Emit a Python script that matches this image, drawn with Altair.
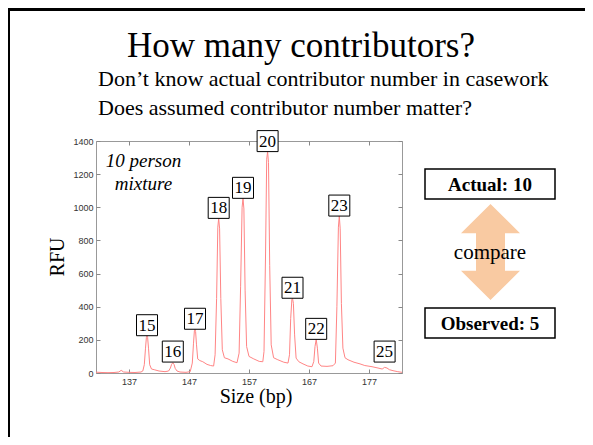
import altair as alt
import pandas as pd

# ---- trace (size in bp, RFU) ----
size_bp = [131.5, 132.5, 133.5, 134.5, 135.3, 135.7, 136.1, 137.0, 138.0, 139.0,
           139.3, 139.55, 139.75, 139.9, 140.0, 140.1, 140.25, 140.45, 140.75, 141.2,
           142.0, 143.0, 143.6, 143.9, 144.1, 144.3, 144.5, 144.7, 145.0, 145.5,
           146.5, 147.2, 147.55, 147.75, 147.9, 148.0, 148.1, 148.25, 148.45, 148.8,
           149.3, 150.0, 150.6, 151.1, 151.35, 151.6, 151.8, 151.95, 152.1, 152.3,
           152.55, 152.9, 153.5, 154.3, 155.0, 155.35, 155.6, 155.85, 156.0, 156.15,
           156.35, 156.6, 157.0, 157.8, 158.7, 159.3, 159.5, 159.75, 159.95, 160.1,
           160.25, 160.45, 160.7, 161.1, 161.8, 162.8, 163.5, 163.75, 163.95, 164.15,
           164.25, 164.4, 164.6, 164.85, 165.3, 166.0, 166.8, 167.5, 167.8, 168.0,
           168.2, 168.4, 168.6, 169.0, 170.0, 171.0, 171.4, 171.65, 171.9, 172.05,
           172.2, 172.4, 172.65, 173.0, 173.5, 174.5, 175.5, 176.3, 177.5, 178.5,
           179.2, 179.6, 180.0, 180.4, 181.0, 181.8, 182.5]
rfu = [5, 3, 2, 3, 6, 16, 6, 4, 3, 6,
       12, 50, 150, 215, 225, 215, 150, 50, 24, 20,
       12, 8, 12, 30, 52, 62, 52, 28, 12, 6,
       4, 8, 60, 180, 255, 264, 250, 170, 85, 75,
       68, 52, 45, 42, 110, 450, 880, 933, 870, 450,
       140, 92, 85, 70, 62, 120, 520, 1000, 1054, 990,
       500, 160, 100, 85, 70, 68, 130, 700, 1290, 1336,
       1270, 650, 170, 92, 80, 65, 60, 110, 330, 445,
       451, 420, 230, 90, 68, 55, 42, 38, 70, 160,
       203, 150, 60, 42, 40, 44, 60, 400, 880, 947,
       870, 420, 150, 92, 80, 65, 55, 45, 38, 30,
       24, 34, 30, 20, 14, 8, 4]

# ---- peak labels ----
peak_labels = ["15", "16", "17", "18", "19", "20", "21", "22", "23", "25"]
peak_size = [140.0, 144.3, 148.0, 151.95, 156.0, 160.1, 164.25, 168.2, 172.05, 179.6]
label_rfu = [225, 66, 264, 933, 1054, 1336, 451, 203, 947, 66]

x_ticks = [137, 147, 157, 167, 177]
y_ticks = [0, 200, 400, 600, 800, 1000, 1200, 1400]

title_text = "How many contributors?"
sub1 = "Don\u2019t know actual contributor number in casework"
sub2 = "Does assumed contributor number matter?"
mix1, mix2 = "10 person", "mixture"
actual_text = "Actual: 10"
observed_text = "Observed: 5"
compare_text = "compare"

W, H = 306, 232
PAD_L, PAD_T = 88, 133
CW, CH = 577, 429

serif = "Liberation Serif"
sans = "Liberation Sans"

trace = pd.DataFrame({"size": size_bp, "rfu": rfu})
xscale = alt.Scale(domain=[131.5, 182.5], nice=False, zero=False)
yscale = alt.Scale(domain=[0, 1400], nice=False, zero=False)
neg = alt.ExprRef(expr="-4")

line = alt.Chart(trace).mark_line(color="#ff8585", strokeWidth=1).encode(
    x=alt.X("size:Q", scale=xscale,
            axis=alt.Axis(orient="bottom", values=x_ticks, title=None, domain=False, grid=False,
                          tickSize=neg, tickColor="#888", labelPadding=8, format="d",
                          labelFont=sans, labelFontSize=9, labelColor="#333")),
    y=alt.Y("rfu:Q", scale=yscale,
            axis=alt.Axis(orient="left", values=y_ticks, title=None, domain=False, grid=False,
                          tickSize=neg, tickColor="#888", labelPadding=7, format="d",
                          labelFont=sans, labelFontSize=9, labelColor="#333")),
)

mirror = alt.Chart(trace).mark_line(opacity=0).encode(
    x=alt.X("size:Q", scale=xscale,
            axis=alt.Axis(orient="top", values=x_ticks, title=None, domain=False, grid=False,
                          labels=False, tickSize=neg, tickColor="#888")),
    y=alt.Y("rfu:Q", scale=yscale,
            axis=alt.Axis(orient="right", values=y_ticks, title=None, domain=False, grid=False,
                          labels=False, tickSize=neg, tickColor="#888")),
)

lab_df = pd.DataFrame({"size": peak_size, "rfu": label_rfu, "lab": peak_labels})
boxes = alt.Chart(lab_df).mark_point(shape="square", size=441, filled=True, fill="white",
                                     stroke="black", strokeWidth=1, opacity=1, yOffset=-10.5).encode(
    x=alt.X("size:Q", scale=xscale, axis=None),
    y=alt.Y("rfu:Q", scale=yscale, axis=None),
)
box_text = alt.Chart(lab_df).mark_text(font=serif, fontSize=17, color="black",
                                       baseline="middle", yOffset=-10).encode(
    x=alt.X("size:Q", scale=xscale, axis=None),
    y=alt.Y("rfu:Q", scale=yscale, axis=None),
    text="lab:N",
)


def txt(t, x, y, size, weight="normal", style="normal", align="center", angle=0, baseline="alphabetic"):
    return alt.Chart(pd.DataFrame({"t": [t]})).mark_text(
        font=serif, fontSize=size, fontWeight=weight, fontStyle=style, align=align,
        baseline=baseline, angle=angle, color="black").encode(
        x=alt.value(x), y=alt.value(y), text="t:N")


one = pd.DataFrame({"a": [0]})


def rect(x1, x2, y1, y2, **kw):
    return alt.Chart(one).mark_rect(**kw).encode(
        x=alt.value(x1), x2=alt.value(x2), y=alt.value(y1), y2=alt.value(y2))


arrow_path = ("M0,-1L0.615,-0.39L0.302,-0.39L0.302,0.39L0.615,0.39L0,1"
              "L-0.615,0.39L-0.302,0.39L-0.302,-0.39L-0.615,-0.39Z")
arrow = alt.Chart(one).mark_point(shape=arrow_path, size=96 * 96, filled=True,
                                  fill="#f9caa2", opacity=1, strokeWidth=0).encode(
    x=alt.value(394.5), y=alt.value(111))

border_left = alt.Chart(one).mark_rule(color="black", strokeWidth=3).encode(
    x=alt.value(-87.5), y=alt.value(-PAD_T), y2=alt.value(CH - PAD_T))
border_top = alt.Chart(one).mark_rule(color="black", strokeWidth=3).encode(
    x=alt.value(-PAD_L), x2=alt.value(CW - PAD_L), y=alt.value(-131.5))

layers = [
    line, mirror, boxes, box_text,
    txt(title_text, 205, -84, 35),
    txt(sub1, 2, -55, 22, align="left"),
    txt(sub2, 2, -26, 22, align="left"),
    txt(mix1, 47.5, 25.7, 19, style="italic"),
    txt(mix2, 47.5, 49, 19, style="italic"),
    txt("RFU", -38.5, H / 2, 20, angle=270, baseline="middle"),
    txt("Size (bp)", 160, 262, 20),
    rect(329, 459, 28, 58, fill="white", stroke="black", strokeWidth=1.5),
    txt(actual_text, 394, 49.5, 19, weight="bold"),
    arrow,
    txt(compare_text, 394, 118, 21),
    rect(329, 459, 167, 197, fill="white", stroke="black", strokeWidth=1.5),
    txt(observed_text, 394, 188.5, 19, weight="bold"),
    border_left, border_top,
]

chart = alt.layer(*layers).resolve_axis(x="independent", y="independent").properties(
    width=W, height=H,
    autosize=alt.AutoSizeParams(type="none"),
    padding={"left": PAD_L, "top": PAD_T, "right": CW - PAD_L - W, "bottom": CH - PAD_T - H},
    background="white",
).configure_view(stroke="#999", strokeWidth=1)

chart.save("out.html", embed_options={"renderer": "svg", "actions": False})
